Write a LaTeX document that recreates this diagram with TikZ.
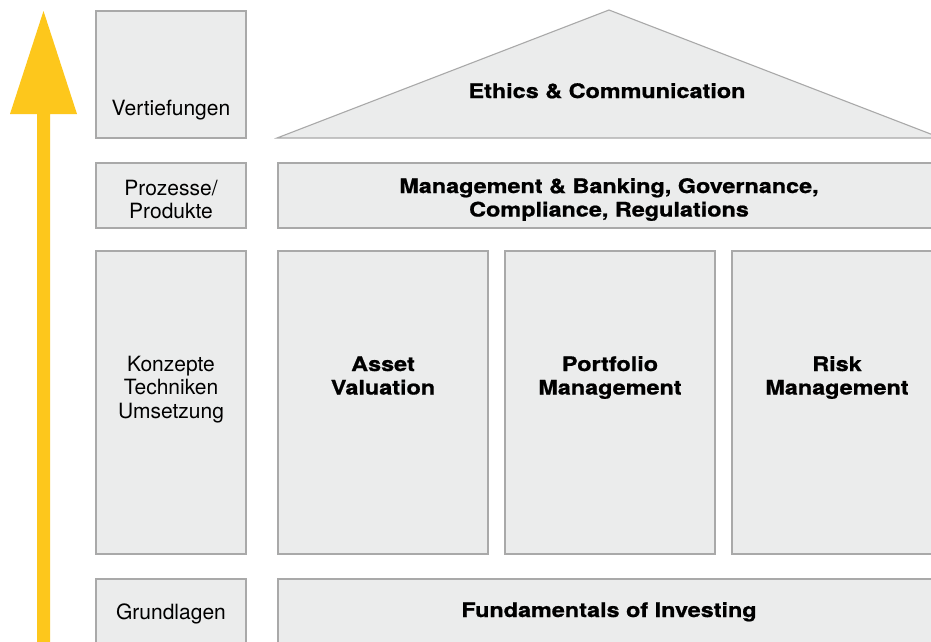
\documentclass[tikz,border=0pt]{standalone}
\usepackage{fontspec}
\setmainfont{TeX Gyre Heros}
\newfontfamily\headfont{TeX Gyre Heros}[FakeStretch=1.17,FakeBold=0.9]
\definecolor{panelgray}{HTML}{EBECEC}
\definecolor{rulegray}{HTML}{A9A9A9}
\definecolor{arrowyellow}{HTML}{FDC71C}

\begin{document}
\begin{tikzpicture}[x=1pt,y=-1pt,
  panel/.style={fill=panelgray,draw=rulegray,line width=1.1pt},
  level/.style={font=\fontsize{21}{23.5}\selectfont,align=center,anchor=base,inner sep=0pt},
  pillar/.style={font=\headfont\bfseries\fontsize{20}{23.5}\selectfont,align=center,anchor=base,inner sep=0pt}]
\clip (0,0) rectangle (931,641);
\fill[white] (0,0) rectangle (931,641);

% Pfeil
\fill[arrowyellow] (37,645) -- (37,114) -- (10,114) -- (43.5,11) -- (77,114) -- (50,114) -- (50,645) -- cycle;

% linke Spalte
\draw[panel] (96,11) rectangle (246,138);
\draw[panel] (96,163) rectangle (246,228);
\draw[panel] (96,251) rectangle (246,554);
\draw[panel] (96,579) rectangle (246,645);

% base = letzte Zeile
\node[level] (vertiefungen) at (171,115) {Vertiefungen};
\node[level] (prozesse) at (171,218.5) {Prozesse/\\Produkte};
\node[level] (konzepte) at (171,418) {Konzepte\\Techniken\\Umsetzung};
\node[level] (grundlagen) at (171,619) {Grundlagen};

% Haus
\draw[panel] (277,138) -- (609,10) -- (941,138) -- cycle;
\draw[panel] (278,163) rectangle (940,228);
\draw[panel] (278,251) rectangle (488,554);
\draw[panel] (505,251) rectangle (715,554);
\draw[panel] (732,251) rectangle (940,554);
\draw[panel] (278,579) rectangle (940,645);

\node[pillar] (ethics) at (607,98) {Ethics \& Communication};
\node[pillar] (management) at (609,216.5) {Management \& Banking, Governance,\\Compliance, Regulations};
\node[pillar] (asset) at (383,394.5) {Asset\\Valuation};
\node[pillar] (portfolio) at (610,394.5) {Portfolio\\Management};
\node[pillar] (risk) at (837,394.5) {Risk\\Management};
\node[pillar] (fundamentals) at (609,617) {Fundamentals of Investing};
\end{tikzpicture}
\end{document}
